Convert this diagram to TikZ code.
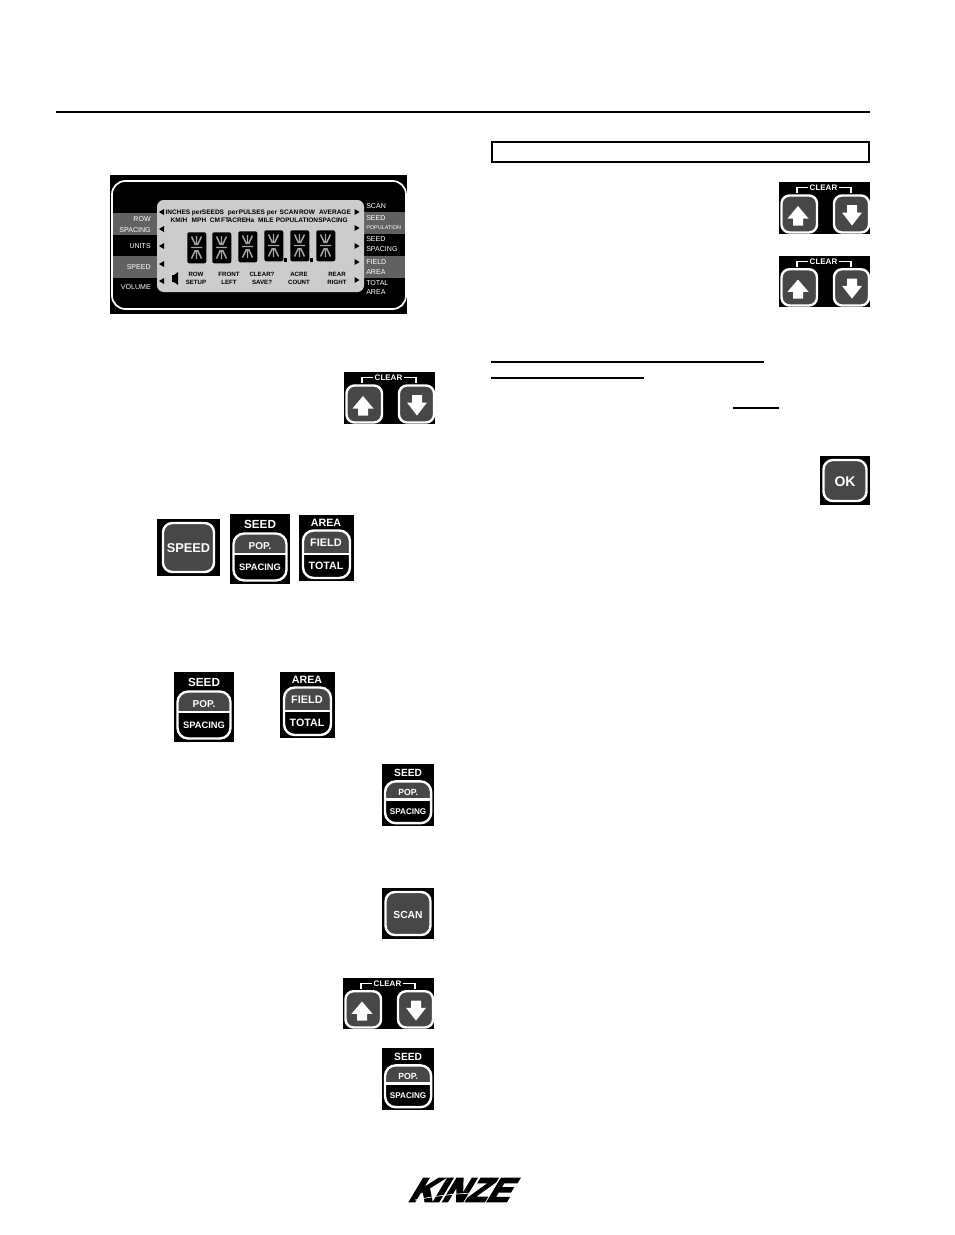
\documentclass[tikz,border=0pt]{standalone}
\usepackage{fontspec}
\setmainfont{Liberation Sans}
\newfontfamily\logofont[BoldFeatures={FakeBold=6}]{Liberation Sans}
\tikzset{
  keyline/.style={draw=white, line width=1.8pt},
  keyfill/.style={fill=black!72},
  keytext/.style={text=white, inner sep=0pt, font=\bfseries\fontsize{#1}{#1}\selectfont},
  lcdtext/.style={text=black, inner sep=0pt, anchor=base, font=\bfseries\fontsize{4.9}{5}\selectfont},
  lcdsmall/.style={text=black, inner sep=0pt, align=center, font=\bfseries\fontsize{4.6}{6}\selectfont},
  lcdlabel/.style={text=white, inner sep=0pt, font=\fontsize{5.3}{5.3}\selectfont},
  lcdmark/.style={fill=black}
}
\newcommand{\singlekey}[8]{% name, x, y, w, h, inset x, inset y, size
  \begin{scope}[shift={(#2,#3)}]
    \fill (0,0) rectangle (#4,#5);
    \draw[keyline, keyfill, rounded corners=7pt] (#6,#7) rectangle (#4-#6,#5-#7);
    \node[keytext=#8] (#1) at (#4/2,#5/2+1) {\keylabel};
  \end{scope}
}
\newcommand{\clearkeys}[4]{% name, x, y, yscale
  \begin{scope}[shift={(#2,#3)}, yscale=#4, name prefix=#1-]
    \fill (0,0) rectangle (91,52);
    \draw[white, line width=.9pt] (18,11) -- (18,5.5) -- (29,5.5) (60,5.5) -- (72,5.5) -- (72,11);
    \node[keytext=6] (clear) at (44.5,6) {CLEAR};
    \draw[keyline, keyfill, rounded corners=6pt] (2.5,13.5) rectangle (38,50.5);
    \draw[keyline, keyfill, rounded corners=6pt] (55,13.5) rectangle (90,50.5);
    \fill[white] (19,24) -- (29.5,36.5) -- (24,36.5) -- (24,43.5) -- (14,43.5) -- (14,36.5) -- (8.5,36.5) -- cycle;
    \fill[white] (73,43.5) -- (83,30.5) -- (78,30.5) -- (78,23) -- (68,23) -- (68,30.5) -- (63,30.5) -- cycle;
  \end{scope}
}
\newcommand{\seedkey}[5]{% name, x, y, xscale, yscale
  \begin{scope}[shift={(#2,#3)}, xscale=#4, yscale=#5, transform shape, name prefix=#1-]
    \fill (0,0) rectangle (60,69.5);
    \begin{scope}
      \clip[rounded corners=8pt] (3.5,19.5) rectangle (56.5,66.5);
      \fill[black!72] (3.5,19.5) rectangle (56.5,40);
    \end{scope}
    \draw[keyline, rounded corners=8pt] (3.5,19.5) rectangle (56.5,66.5);
    \draw[keyline] (3.5,40) -- (56.5,40);
    \node[keytext=8.8] (title) at (30,10) {SEED};
    \node[keytext=7.5] (pop) at (30,32) {POP.};
    \node[keytext=7] (spacing) at (30,53) {SPACING};
  \end{scope}
}
\newcommand{\areakey}[3]{% name, x, y
  \begin{scope}[shift={(#2,#3)}, name prefix=#1-]
    \fill (0,0) rectangle (54.5,66);
    \begin{scope}
      \clip[rounded corners=8pt] (4,15.5) rectangle (51,63);
      \fill[black!72] (4,15.5) rectangle (51,39);
    \end{scope}
    \draw[keyline, rounded corners=8pt] (4,15.5) rectangle (51,63);
    \draw[keyline] (4,39) -- (51,39);
    \node[keytext=8] (title) at (27,7.5) {AREA};
    \node[keytext=8.2] (field) at (27,28) {FIELD};
    \node[keytext=8] (total) at (27,51) {TOTAL};
  \end{scope}
}
\newcommand{\lcddigit}[3]{% name, x, y
  \begin{scope}[shift={(#2,#3)}]
    \node[fill=black, rounded corners=1.5pt, inner sep=0pt, minimum width=14.25pt, minimum height=23.25pt, anchor=north west] (#1) at (0,0) {};
    \draw[black!35, line width=1.1pt] (4.5,4.5) -- (8.5,13) (14.5,4.5) -- (10.5,13) (4.5,26.5) -- (8.5,18) (14.5,26.5) -- (10.5,18)
      (9.5,4) -- (9.5,13) (9.5,18) -- (9.5,27) (4,15.5) -- (15,15.5);
  \end{scope}
}
\begin{document}
\begin{tikzpicture}[x=.75pt, y=-.75pt]
\useasboundingbox (0,0) rectangle (954,1235);
\fill[white] (0,0) rectangle (954,1235);
\draw[line width=1.5pt] (56,112) -- (870,112);
\draw[line width=1.5pt] (492,142) rectangle (869,162);
\foreach \xa/\xb/\ya in {491/764/362, 491/644/378, 733/779/408} {
  \draw[line width=1pt] (\xa,\ya) -- (\xb,\ya);
}
\fill (110,175) rectangle (407,314);
\fill[black!62] (112,213) rectangle (160,235);
\fill[black!62] (112,256) rectangle (160,278);
\fill[black!62] (360,212) rectangle (405,234);
\fill[black!62] (360,256) rectangle (405,278);
\draw[white, line width=1.3pt, rounded corners=10pt] (112,181) rectangle (406,309);
\fill[black!20, rounded corners=5pt] (157,200) rectangle (364,292);
\foreach \x/\word in {178/INCHES, 197/per, 213/SEEDS, 233/per, 252/PULSES, 272/per, 289/SCAN, 307/ROW, 335/AVERAGE} {
  \node[lcdtext] (top\x) at (\x,214.5) {\word};
}
\foreach \x/\word in {179/{KM/H}, 199/MPH, 215/CM, 225/FT, 237/ACRE, 250/Ha, 266/MILE, 297/POPULATION, 333/SPACING} {
  \node[lcdtext] (sub\x) at (\x,222) {\word};
}
\foreach \x/\word in {196/ROW\\SETUP, 229/FRONT\\LEFT, 262/CLEAR?\\SAVE?, 299/ACRE\\COUNT, 337/REAR\\RIGHT} {
  \node[lcdsmall] (bot\x) at (\x,278) {\word};
}
\foreach \y in {212,229,246,264,281} {
  \fill[lcdmark] (159,\y) -- (164,\y-3) -- (164,\y+3) -- cycle;
}
\foreach \y in {212,228,246,262,280} {
  \fill[lcdmark] (359.5,\y) -- (354.5,\y-3) -- (354.5,\y+3) -- cycle;
}
\fill[lcdmark] (172,275) -- (174,275) -- (178,272) -- (178,285) -- (174,282) -- (172,282) -- cycle;
\foreach \x/\y [count=\i] in {187/232, 212/232, 238/231, 264/230, 290/230, 316/230} {
  \lcddigit{digit\i}{\x}{\y}
}
\fill[lcdmark] (283.5,258) rectangle (287,261.5);
\fill[lcdmark] (309.5,258) rectangle (313,261.5);
\foreach \y/\word in {219/ROW, 230/SPACING, 246/UNITS, 267/SPEED, 287/VOLUME} {
  \node[lcdlabel, anchor=east] (left\y) at (151,\y) {\word};
}
\foreach \y/\word in {206/SCAN, 218/SEED, 239/SEED, 249/SPACING, 262/FIELD, 272/AREA, 283/TOTAL, 292/AREA} {
  \node[lcdlabel, anchor=west] (right\y) at (366,\y) {\word};
}
\node[lcdlabel, anchor=west, font=\fontsize{4.1}{4.1}\selectfont] (right228) at (366,228) {POPULATION};
\clearkeys{clearA}{344}{372}{1}
\clearkeys{clearB}{779}{182}{1}
\clearkeys{clearC}{779}{256}{.98}
\clearkeys{clearD}{343}{978}{.98}
\def\keylabel{SPEED}
\singlekey{speedkey}{157}{519}{63}{57}{6}{4}{9.6}
\def\keylabel{SCAN}
\singlekey{scankey}{382}{888}{52}{51}{3.5}{4}{7.7}
\def\keylabel{OK}
\singlekey{okkey}{820}{456}{50}{49}{3.5}{4}{10.5}
\seedkey{seedA}{230}{514}{1}{1}
\areakey{areaA}{299}{515}
\seedkey{seedB}{174}{672}{1}{1}
\areakey{areaB}{280}{672}
\seedkey{seedC}{382}{764}{.87}{.89}
\seedkey{seedD}{382}{1048}{.87}{.89}
\node[inner sep=0pt, xslant=.6, transform shape, font=\logofont\bfseries\fontsize{25}{25}\selectfont] (logo) at (464.5,1190) {KINZE};
\draw[white, line width=.5pt] (415,1200) .. controls (440,1195) and (455,1194) .. (473,1193);
\end{tikzpicture}
\end{document}
